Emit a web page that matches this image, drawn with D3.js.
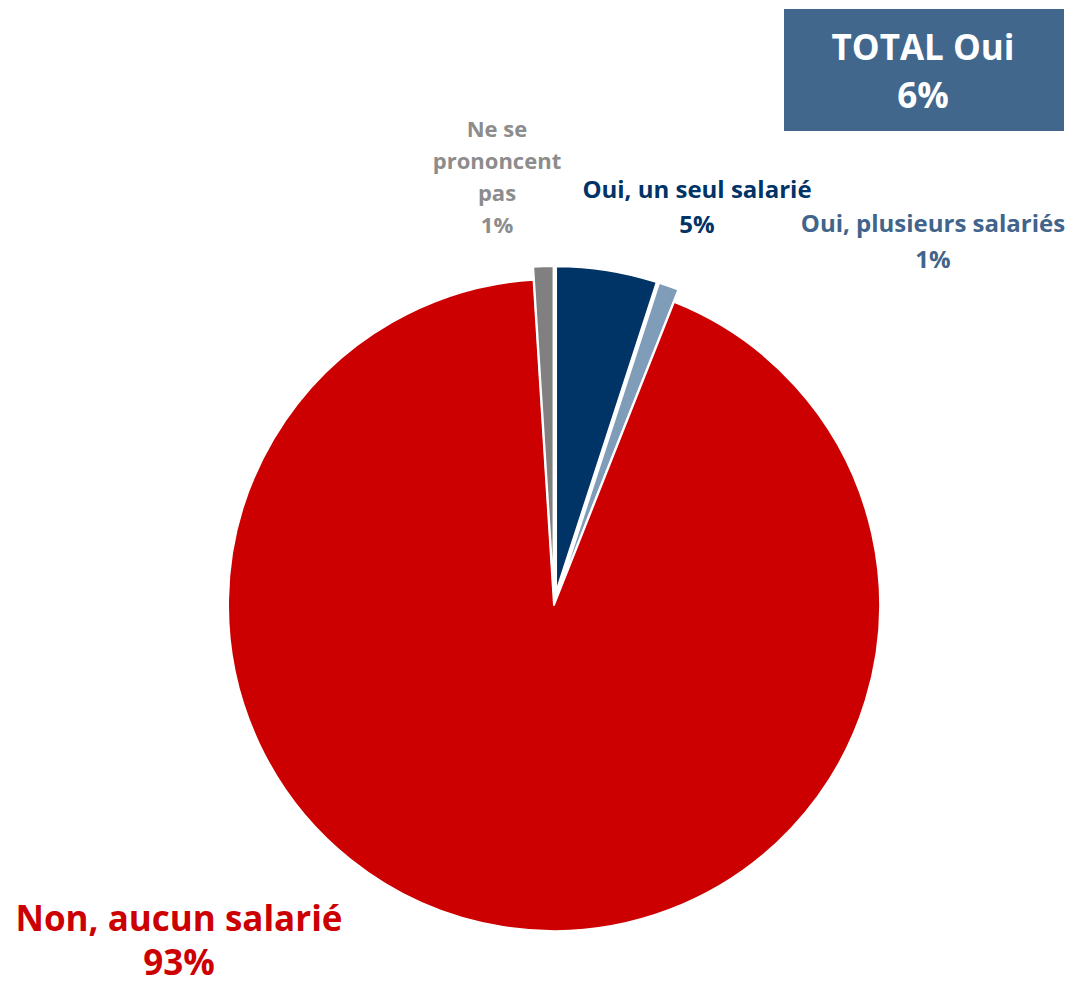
<!DOCTYPE html>
<html>
<head>
<meta charset="utf-8">
<script src="https://cdn.jsdelivr.net/npm/d3@7"></script>
<style>
  body { margin: 0; background: #fff; }
  text { font-family: "Open Sans", Lato, sans-serif; font-weight: bold; }
</style>
</head>
<body>
<div id="chart"></div>
<script>
// data
var categories = ["Oui, un seul salarié", "Oui, plusieurs salariés", "Non, aucun salarié", "Ne se prononcent pas"];
var values = [5, 1, 93, 1];
var labelLines = [["Oui, un seul salarié"], ["Oui, plusieurs salariés"], ["Non, aucun salarié"], ["Ne se", "prononcent", "pas"]];
var totalLabel = ["TOTAL Oui", "6%"];

// styles
var sliceColors = ["#003366", "#7f9cb9", "#cc0000", "#808080"];
var textColors = ["#003366", "#41648a", "#cc0000", "#8c8c8c"];
var explode = [13, 13, 0, 13];

var width = 1070, height = 987;
var cx = 554, cy = 605, radius = 326;

// label layout: center x, first baseline, line height, font size
var labelLayout = [
  {x: 697, y: 198, lh: 35, fs: 24},
  {x: 933, y: 232, lh: 36, fs: 24},
  {x: 179, y: 931, lh: 44, fs: 35},
  {x: 497, y: 137, lh: 32, fs: 22}
];

var svg = d3.select("#chart").append("svg")
    .attr("width", width)
    .attr("height", height);

var data = categories.map(function(c, i) { return {name: c, value: values[i], i: i}; });

var pie = d3.pie()
    .sort(null)
    .value(function(d) { return d.value; });

var arc = d3.arc()
    .innerRadius(0)
    .outerRadius(radius);

var arcs = pie(data);

var g = svg.append("g")
    .attr("transform", "translate(" + cx + "," + cy + ")");

g.selectAll(".slice")
    .data(arcs)
    .enter().append("path")
    .attr("class", "slice")
    .attr("d", arc)
    .attr("fill", function(d) { return sliceColors[d.data.i]; })
    .attr("stroke", "#fff")
    .attr("stroke-width", 2)
    .attr("stroke-linejoin", "round")
    .attr("transform", function(d) {
        var a = (d.startAngle + d.endAngle) / 2;
        var e = explode[d.data.i];
        return "translate(" + (Math.sin(a) * e) + "," + (-Math.cos(a) * e) + ")";
    });

// data labels
arcs.forEach(function(d) {
    var i = d.data.i;
    var L = labelLayout[i];
    var lines = labelLines[i].concat([d3.format(".0f")(d.data.value) + "%"]);
    var t = svg.append("text")
        .attr("text-anchor", "middle")
        .attr("fill", textColors[i])
        .style("font-size", L.fs + "px");
    lines.forEach(function(s, k) {
        t.append("tspan")
            .attr("x", L.x)
            .attr("y", L.y + k * L.lh)
            .text(s);
    });
});

// total box
svg.append("rect")
    .attr("x", 784)
    .attr("y", 9)
    .attr("width", 280)
    .attr("height", 122)
    .attr("fill", "#41678d");

svg.append("text")
    .attr("text-anchor", "middle")
    .attr("fill", "#fff")
    .style("font-size", "35px")
    .selectAll("tspan")
    .data(totalLabel)
    .enter().append("tspan")
    .attr("x", 923)
    .attr("y", function(d, k) { return 60 + k * 48; })
    .text(function(d) { return d; });
</script>
</body>
</html>
